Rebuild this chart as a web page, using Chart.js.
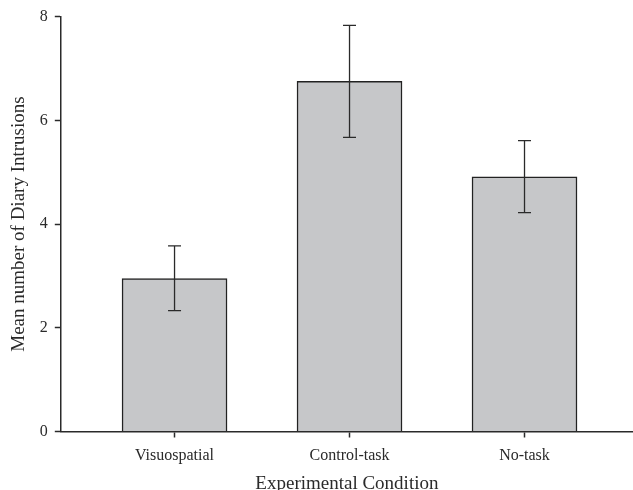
<!DOCTYPE html>
<html>
<head>
<meta charset="utf-8">
<script src="https://cdn.jsdelivr.net/npm/chart.js@4.4.1/dist/chart.umd.min.js"></script>
<style>
html,body{margin:0;padding:0;background:#fff;}
#wrap{width:633px;height:490px;position:relative;}
</style>
</head>
<body>
<div id="wrap"><canvas id="c" width="633" height="490"></canvas></div>
<script>
const categories = ['Visuospatial', 'Control-task', 'No-task'];
const means = [2.95, 6.75, 4.91];
const errUpper = [3.58, 7.83, 5.61];
const errLower = [2.33, 5.67, 4.22];
const yTicks = [0, 2, 4, 6, 8];

const FONT = "'Liberation Serif', 'DejaVu Serif', serif";
const INK = '#2a2a2a';

const errorBars = {
  id: 'errorBars',
  afterDatasetsDraw(chart) {
    const xs = chart.scales.x, ys = chart.scales.y, ctx = chart.ctx;
    ctx.save();
    ctx.strokeStyle = INK;
    ctx.lineWidth = 1.3;
    categories.forEach((c, i) => {
      const x = xs.getPixelForValue(i);
      const yt = ys.getPixelForValue(errUpper[i]);
      const yb = ys.getPixelForValue(errLower[i]);
      ctx.beginPath();
      ctx.moveTo(x, yt); ctx.lineTo(x, yb);
      ctx.moveTo(x - 6.5, yt); ctx.lineTo(x + 6.5, yt);
      ctx.moveTo(x - 6.5, yb); ctx.lineTo(x + 6.5, yb);
      ctx.stroke();
    });
    ctx.restore();
  }
};

new Chart(document.getElementById('c'), {
  type: 'bar',
  data: {
    datasets: [{
      data: means.map((m, i) => ({ x: i, y: m })),
      backgroundColor: '#c6c7c9',
      borderColor: '#222',
      borderWidth: 1.5,
      barThickness: 105
    }]
  },
  options: {
    responsive: false,
    animation: false,
    devicePixelRatio: 1,
    layout: { padding: { left: 8, right: 0, top: 10, bottom: -4 } },
    plugins: { legend: { display: false }, tooltip: { enabled: false } },
    scales: {
      x: {
        type: 'linear',
        offset: false,
        min: -0.65,
        max: 2.62,
        afterBuildTicks: (s) => { s.ticks = categories.map((c, i) => ({ value: i })); },
        ticks: {
          callback: (v) => categories[v],
          font: { family: FONT, size: 16, lineHeight: 1.1 },
          color: INK,
          padding: 9,
          maxRotation: 0
        },
        grid: { offset: false, drawOnChartArea: false, tickLength: 6, color: INK, tickWidth: 1.5 },
        border: { color: INK, width: 1.5 },
        title: {
          display: true,
          text: 'Experimental Condition',
          font: { family: FONT, size: 19, lineHeight: 1.1 },
          color: INK,
          padding: { top: 0, bottom: 0 }
        }
      },
      y: {
        min: 0,
        max: 8,
        afterBuildTicks: (s) => { s.ticks = yTicks.map(v => ({ value: v })); },
        ticks: {
          font: { family: FONT, size: 16 },
          color: INK,
          padding: 7
        },
        grid: { drawOnChartArea: false, tickLength: 6, color: INK, tickWidth: 1.5 },
        border: { color: INK, width: 1.5 },
        title: {
          display: true,
          text: 'Mean number of Diary Intrusions',
          font: { family: FONT, size: 19 },
          color: INK,
          padding: { top: 0, bottom: 2 }
        }
      }
    }
  },
  plugins: [errorBars]
});
</script>
</body>
</html>
